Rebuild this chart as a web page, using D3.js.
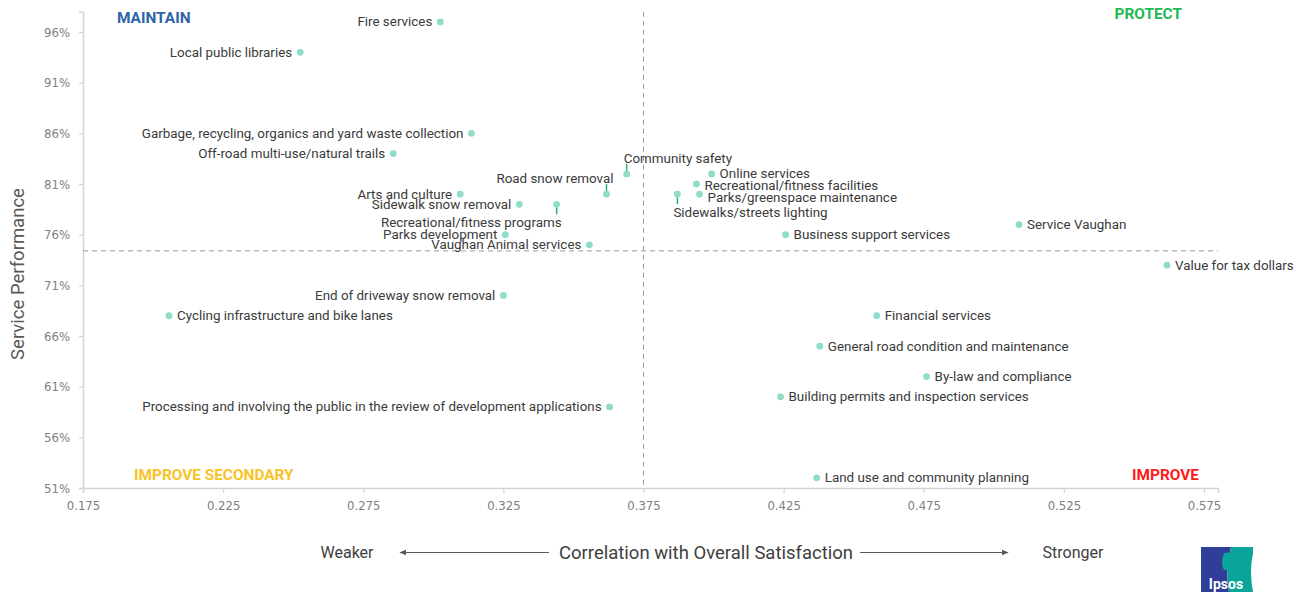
<!DOCTYPE html>
<html>
<head>
<meta charset="utf-8">
<script src="https://cdn.jsdelivr.net/npm/d3@7"></script>
<style>
  html, body { margin: 0; padding: 0; background: #fff; }
  svg { display: block; font-family: Roboto, "Liberation Sans", sans-serif; }
</style>
</head>
<body>
<svg id="chart" width="1301" height="592"></svg>
<script>
// ---- data ----
const services = [
  "Fire services", "Local public libraries",
  "Garbage, recycling, organics and yard waste collection",
  "Off-road multi-use/natural trails", "Arts and culture",
  "Sidewalk snow removal", "Recreational/fitness programs",
  "Parks development", "Vaughan Animal services", "Road snow removal",
  "Community safety", "Online services", "Recreational/fitness facilities",
  "Parks/greenspace maintenance", "Sidewalks/streets lighting",
  "Business support services", "Service Vaughan", "Value for tax dollars",
  "End of driveway snow removal", "Cycling infrastructure and bike lanes",
  "Financial services", "General road condition and maintenance",
  "By-law and compliance", "Building permits and inspection services",
  "Processing and involving the public in the review of development applications",
  "Land use and community planning"
];
const correlation = [
  0.3025, 0.2525, 0.3136, 0.2857, 0.3096,
  0.3307, 0.3440, 0.3257, 0.3557, 0.3618,
  0.3690, 0.3993, 0.3939, 0.3950, 0.3871,
  0.4257, 0.5090, 0.5618, 0.3250, 0.2057,
  0.4582, 0.4379, 0.4760, 0.4239, 0.3629,
  0.4368
];
const performance = [
  97, 94, 86, 84, 80,
  79, 79, 76, 75, 80,
  82, 82, 81, 80, 80,
  76, 77, 73, 70, 68,
  68, 65, 62, 60, 59,
  52
];
// label side: l = left, r = right, t = above (leader), b = below (leader)
const labelSide = [
  "l","l","l","l","l",
  "l","b","l","l","t",
  "t","r","r","r","b",
  "r","r","r","l","r",
  "r","r","r","r","l",
  "r"
];
const xTicks = [0.175, 0.225, 0.275, 0.325, 0.375, 0.425, 0.475, 0.525, 0.575];
const yTicks = [51, 56, 61, 66, 71, 76, 81, 86, 91, 96];
const xDomain = [0.175, 0.580];
const yDomain = [51, 98];
const avgCorrelation = 0.375;
const avgPerformance = 74.4;
const quadrants = [
  { name: "MAINTAIN", color: "#2e63a6" },
  { name: "PROTECT", color: "#1db954" },
  { name: "IMPROVE SECONDARY", color: "#f7c325" },
  { name: "IMPROVE", color: "#ff1a1a" }
];

// ---- layout ----
const svg = d3.select("#chart");
const M = { left: 83, right: 1218, top: 12, bottom: 488 };
const x = d3.scaleLinear().domain(xDomain).range([M.left, M.left + (xDomain[1]-xDomain[0]) / 0.4 * 1121]);
const y = d3.scaleLinear().domain(yDomain).range([M.bottom, M.bottom - (yDomain[1]-yDomain[0]) * 10.133]);

// axes
const xAxis = d3.axisBottom(x).tickValues(xTicks).tickFormat(d3.format(".3f")).tickSize(5).tickPadding(8);
const yAxis = d3.axisLeft(y).tickValues(yTicks).tickFormat(d => d + "%").tickSize(4).tickPadding(9);

const gx = svg.append("g").attr("transform", `translate(0,${M.bottom})`).call(xAxis);
const gy = svg.append("g").attr("transform", `translate(${M.left},0)`).call(yAxis);
[gx, gy].forEach(g => {
  g.select(".domain").attr("stroke", "#d4d4d4").attr("stroke-width", 1.5);
  g.selectAll(".tick line").attr("stroke", "#d4d4d4").attr("stroke-width", 1.2);
  g.selectAll(".tick text").attr("fill", "#808080").attr("font-size", 13)
    .attr("font-family", "'Liberation Sans Narrow', 'DejaVu Sans Condensed', Roboto, sans-serif");
});

// reference lines
svg.append("line")
  .attr("x1", x(avgCorrelation)).attr("x2", x(avgCorrelation))
  .attr("y1", y(yDomain[1])).attr("y2", M.bottom)
  .attr("stroke", "#9a9a9a").attr("stroke-dasharray", "5,4").attr("stroke-width", 1);
svg.append("line")
  .attr("x1", M.left).attr("x2", x(xDomain[1]))
  .attr("y1", y(avgPerformance)).attr("y2", y(avgPerformance))
  .attr("stroke", "#9a9a9a").attr("stroke-dasharray", "5,4").attr("stroke-width", 1);

// quadrant labels
const qpos = [
  { x: 117, y: 23, anchor: "start" },
  { x: 1182, y: 19, anchor: "end" },
  { x: 134, y: 480, anchor: "start" },
  { x: 1199, y: 480, anchor: "end" }
];
quadrants.forEach((q, i) => {
  svg.append("text").attr("x", qpos[i].x).attr("y", qpos[i].y)
    .attr("text-anchor", qpos[i].anchor)
    .attr("font-weight", "bold").attr("font-size", 15.4)
    .attr("fill", q.color).text(q.name);
});

// points
const data = services.map((s, i) => ({ name: s, cx: correlation[i], cy: performance[i], side: labelSide[i] }));
const dotColor = "#8fdcca";
const leaderColor = "#27b07a";
const g = svg.append("g");
data.forEach(d => {
  const px = x(d.cx), py = y(d.cy);
  if (d.side === "t" || d.side === "b") {
    const dir = d.side === "t" ? -1 : 1;
    g.append("line").attr("x1", px).attr("x2", px)
      .attr("y1", py + dir * 2).attr("y2", py + dir * 10)
      .attr("stroke", leaderColor).attr("stroke-width", 1.5);
  }
});
g.selectAll("circle").data(data).join("circle")
  .attr("cx", d => x(d.cx)).attr("cy", d => y(d.cy))
  .attr("r", 3.4).attr("fill", dotColor);

// small label nudges to keep close labels apart, as in the original
const nudge = name =>
  name.startsWith("Parks/greenspace") ? 3 :
  name.startsWith("Recreational/fitness facilities") ? 1.5 :
  name.startsWith("Online") ? -0.5 : 0;

const labelFont = 13.4;
g.selectAll("text.lbl").data(data).join("text")
  .attr("class", "lbl")
  .attr("font-size", labelFont)
  .attr("fill", "#3a3a3a")
  .each(function(d) {
    const px = x(d.cx), py = y(d.cy);
    const t = d3.select(this).text(d.name);
    if (d.side === "l") {
      t.attr("x", px - 8).attr("y", py + 4.5).attr("text-anchor", "end");
    } else if (d.side === "r") {
      t.attr("x", px + 8).attr("y", py + 4.5 + nudge(d.name)).attr("text-anchor", "start");
    } else if (d.side === "t") {
      t.attr("y", py - 11);
      if (d.name.startsWith("Road")) t.attr("x", px + 7).attr("text-anchor", "end");
      else t.attr("x", px - 3).attr("text-anchor", "start");
    } else {
      t.attr("y", py + 23);
      if (d.name.startsWith("Recreational")) t.attr("x", px + 5).attr("text-anchor", "end");
      else t.attr("x", px - 4).attr("text-anchor", "start");
    }
  });

// axis titles
svg.append("text")
  .attr("transform", `translate(24,${(M.top + M.bottom) / 2 + 24}) rotate(-90)`)
  .attr("text-anchor", "middle").attr("font-size", 18.5).attr("fill", "#595959")
  .text("Service Performance");

const ty = 559;
svg.append("text").attr("x", 706).attr("y", ty).attr("text-anchor", "middle")
  .attr("font-size", 18.5).attr("fill", "#404040").text("Correlation with Overall Satisfaction");
svg.append("text").attr("x", 347).attr("y", ty - 1).attr("text-anchor", "middle")
  .attr("font-size", 16).attr("fill", "#404040").text("Weaker");
svg.append("text").attr("x", 1073).attr("y", ty - 1).attr("text-anchor", "middle")
  .attr("font-size", 16).attr("fill", "#404040").text("Stronger");

const defs = svg.append("defs");
defs.append("marker").attr("id", "arr").attr("viewBox", "0 0 10 10")
  .attr("refX", 9).attr("refY", 5).attr("markerWidth", 7).attr("markerHeight", 7)
  .attr("orient", "auto-start-reverse")
  .append("path").attr("d", "M0,1 L10,5 L0,9 Z").attr("fill", "#595959");
svg.append("line").attr("x1", 549).attr("x2", 400).attr("y1", 552.5).attr("y2", 552.5)
  .attr("stroke", "#595959").attr("stroke-width", 1).attr("marker-end", "url(#arr)");
svg.append("line").attr("x1", 860).attr("x2", 1008).attr("y1", 552.5).attr("y2", 552.5)
  .attr("stroke", "#595959").attr("stroke-width", 1).attr("marker-end", "url(#arr)");

// Ipsos logo
const logo = svg.append("g").attr("transform", "translate(1201,547)");
logo.append("path").attr("d", "M0,0 L30,0 Q24,22 28,45 L0,45 Z").attr("fill", "#2f3f98");
logo.append("path").attr("d", "M30,0 L52,0 L52,6 Q48,25 52,45 L28,45 Q24,22 30,0 Z").attr("fill", "#0aa59a");
logo.append("path").attr("d", "M23,6 q9,-2 10,6 q1,3 -1,5 q-2,3 0,6 l-3,2 q-4,-3 -6,-2 q-4,-6 0,-17 z").attr("fill", "#0aa59a");
logo.append("text").attr("x", 25).attr("y", 42).attr("text-anchor", "middle")
  .attr("font-size", 14).attr("font-weight", "bold").attr("fill", "#fff").text("Ipsos");
</script>
</body>
</html>
